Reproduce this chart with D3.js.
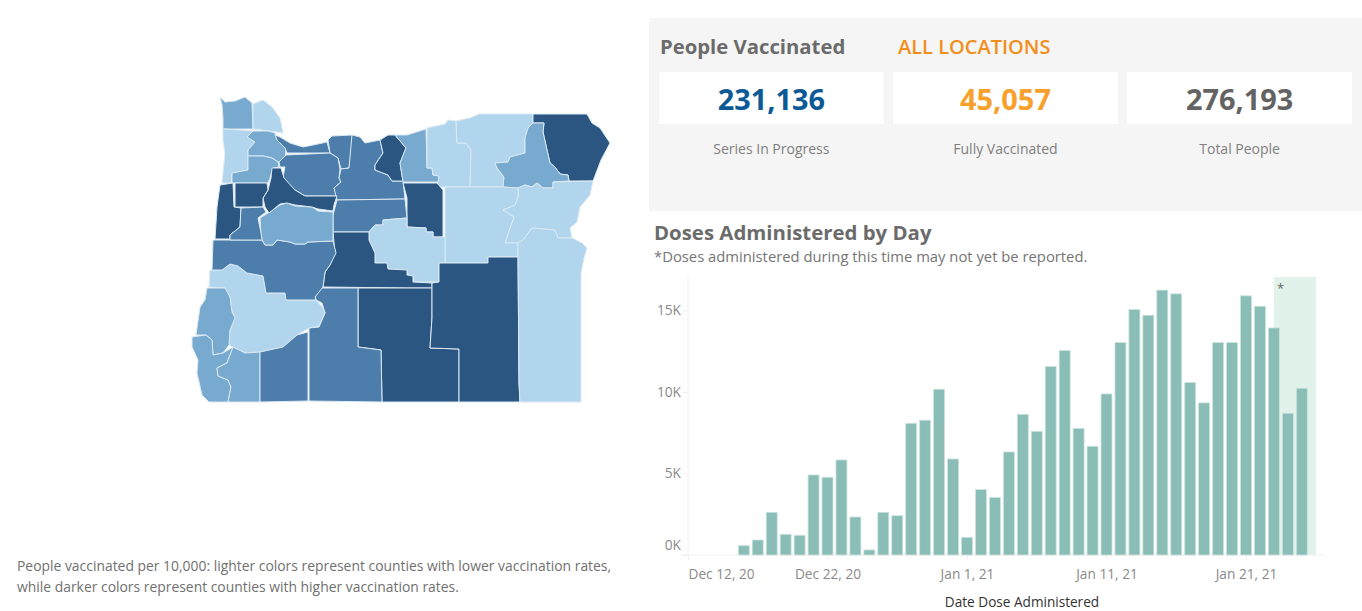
<!DOCTYPE html>
<html>
<head>
<meta charset="utf-8">
<script src="https://cdn.jsdelivr.net/npm/d3@7"></script>
<style>
  html, body { margin: 0; padding: 0; background: #fff; overflow: hidden; }
  text { font-family: "Open Sans", sans-serif; }
</style>
</head>
<body>
<svg id="chart" width="1362" height="611"></svg>
<script>
// doses per day
const dates = ["2020-12-16","2020-12-17","2020-12-18","2020-12-19","2020-12-20","2020-12-21","2020-12-22","2020-12-23","2020-12-24","2020-12-25","2020-12-26","2020-12-27","2020-12-28","2020-12-29","2020-12-30","2020-12-31","2021-01-01","2021-01-02","2021-01-03","2021-01-04","2021-01-05","2021-01-06","2021-01-07","2021-01-08","2021-01-09","2021-01-10","2021-01-11","2021-01-12","2021-01-13","2021-01-14","2021-01-15","2021-01-16","2021-01-17","2021-01-18","2021-01-19","2021-01-20","2021-01-21","2021-01-22","2021-01-23","2021-01-24","2021-01-25"];
const doses = [570,920,2620,1270,1210,4910,4770,5830,2330,310,2620,2410,8080,8270,10170,5890,1080,4010,3520,6320,8630,7590,11560,12540,7770,6670,9880,13030,15060,14710,16250,16020,10580,9330,13030,13030,15900,15260,13930,8700,10230];
const yTicks = [0, 5000, 10000, 15000];
const xTicks = ["2020-12-12","2020-12-22","2021-01-01","2021-01-11","2021-01-21"];
const lagPeriod = ["2021-01-23","2021-01-26"];

const kpiValues = [231136, 45057, 276193];
const kpiLabels = ["Series In Progress", "Fully Vaccinated", "Total People"];
const kpiColors = ["#0b5a96", "#f7a12c", "#636363"];

// county outlines, [name, rate class, ring]
const rateColors = ["#b0d5ec", "#78a9cf", "#4d7dab", "#2b5682"];
const counties = [
  ["Clatsop",1,[[220,97],[225,102],[235,101],[245,97],[252,103],[253,129],[223,129],[223,118],[222,105]]],
  ["Columbia",0,[[253,104],[263,100],[272,107],[280,118],[283,133],[270,131],[253,129]]],
  ["Tillamook",0,[[223,129],[253,131],[247,137],[255,142],[248,150],[248,170],[232,173],[231,183],[222,183],[225,153],[223,140]]],
  ["Washington",1,[[253,131],[268,131],[275,133],[277,140],[286,148],[285,163],[278,162],[272,158],[263,156],[248,156],[248,150],[255,142],[247,137]]],
  ["Yamhill",1,[[248,156],[263,156],[272,158],[278,162],[279,167],[273,168],[270,178],[268,183],[232,183],[232,173],[248,170]]],
  ["Multnomah",2,[[275,135],[280,137],[290,143],[303,147],[313,145],[327,142],[330,153],[287,153],[285,148],[277,140]]],
  ["Hood River",2,[[328,140],[332,136],[352,135],[352,150],[349,168],[341,169],[338,158],[330,153]]],
  ["Clackamas",2,[[286,155],[330,153],[338,158],[340,169],[339,178],[341,182],[334,188],[337,196],[305,196],[295,190],[287,182],[283,177],[285,167],[280,167],[279,162]]],
  ["Wasco",2,[[352,135],[360,137],[365,143],[380,140],[383,153],[375,165],[375,170],[388,175],[392,181],[403,181],[405,199],[337,200],[334,188],[341,182],[339,178],[341,169],[349,168]]],
  ["Sherman",3,[[380,140],[383,153],[375,165],[375,170],[388,175],[392,181],[403,181],[400,163],[406,148],[395,135],[388,135]]],
  ["Gilliam",1,[[395,135],[407,135],[426,129],[427,168],[432,168],[433,175],[439,176],[439,182],[403,182],[400,163],[406,148]]],
  ["Morrow",0,[[427,128],[445,124],[448,120],[456,121],[457,143],[466,143],[471,150],[470,187],[445,187],[437,187],[439,176],[433,175],[432,168],[427,168]]],
  ["Umatilla",0,[[456,121],[470,118],[479,114],[533,114],[533,123],[528,128],[525,138],[525,153],[510,157],[508,162],[495,163],[497,168],[504,177],[503,187],[470,187],[471,150],[466,143],[457,143]]],
  ["Wallowa",3,[[533,114],[587,114],[592,123],[600,128],[610,143],[601,160],[593,181],[569,181],[568,175],[560,174],[555,167],[550,163],[547,150],[543,132],[544,123],[533,123]]],
  ["Union",1,[[533,123],[544,123],[543,132],[547,150],[550,163],[555,167],[560,174],[568,175],[569,181],[553,182],[553,188],[543,188],[537,183],[532,187],[525,185],[518,188],[510,188],[503,187],[504,177],[497,168],[495,163],[508,162],[510,157],[525,153],[525,138],[528,128]]],
  ["Baker",0,[[518,188],[525,185],[532,187],[537,183],[543,188],[553,188],[553,182],[593,181],[590,195],[580,207],[577,222],[570,228],[572,238],[558,238],[555,230],[532,228],[523,240],[518,243],[505,243],[510,228],[514,217],[503,210],[515,205],[518,197]]],
  ["Grant",0,[[445,187],[503,187],[518,188],[518,197],[515,205],[503,210],[514,217],[510,228],[505,243],[518,243],[518,257],[488,257],[488,263],[445,263]]],
  ["Wheeler",3,[[403,183],[437,183],[443,190],[443,237],[433,237],[433,232],[426,232],[426,228],[407,227],[407,198]]],
  ["Jefferson",2,[[337,200],[405,199],[407,218],[383,220],[383,225],[375,225],[369,232],[333,232],[333,215]]],
  ["Crook",0,[[369,232],[375,225],[383,225],[383,220],[407,218],[407,227],[426,228],[426,232],[433,232],[433,237],[445,237],[445,263],[439,263],[439,282],[414,282],[413,276],[408,275],[407,270],[400,270],[388,269],[387,263],[375,263],[375,253],[369,240]]],
  ["Deschutes",3,[[333,232],[369,232],[369,240],[375,253],[375,263],[387,263],[388,269],[407,270],[407,275],[413,276],[413,282],[432,283],[432,288],[408,288],[323,287],[325,272],[330,265],[335,253]]],
  ["Lake",3,[[358,288],[432,288],[432,318],[430,348],[459,349],[459,402],[382,402],[381,350],[358,347]]],
  ["Harney",3,[[439,263],[488,263],[488,257],[518,257],[519,383],[520,402],[459,402],[459,349],[430,348],[432,318],[432,283],[439,282]]],
  ["Malheur",0,[[518,243],[523,240],[532,228],[555,230],[558,238],[572,238],[582,243],[587,248],[584,258],[581,273],[581,402],[520,402],[519,383],[518,257]]],
  ["Klamath",2,[[320,288],[358,288],[358,347],[381,350],[382,402],[309,401],[309,328],[319,327],[325,313],[322,303],[316,300],[315,295]]],
  ["Douglas",0,[[209,287],[210,270],[222,270],[230,264],[238,266],[247,273],[263,276],[266,293],[285,293],[286,300],[316,300],[323,308],[325,313],[319,326],[309,328],[297,335],[283,347],[260,352],[245,353],[233,347],[229,345],[230,330],[235,318],[232,312],[230,297],[225,288]]],
  ["Lane",2,[[213,240],[262,240],[265,245],[273,245],[277,240],[290,242],[295,244],[305,244],[308,242],[333,241],[336,253],[330,265],[325,272],[323,287],[315,297],[316,300],[286,300],[285,293],[266,293],[263,276],[247,273],[238,266],[230,264],[222,270],[212,270]]],
  ["Linn",1,[[260,218],[268,213],[280,205],[287,203],[295,206],[312,207],[318,211],[333,212],[333,232],[333,241],[308,242],[305,244],[295,244],[290,242],[277,240],[273,245],[265,245],[262,240],[261,233]]],
  ["Marion",3,[[272,168],[279,168],[281,168],[284,178],[295,190],[305,196],[337,196],[334,205],[333,211],[318,209],[312,207],[295,205],[287,203],[280,204],[269,213],[265,207],[263,198],[268,190],[271,178]]],
  ["Polk",3,[[235,183],[267,183],[268,190],[263,198],[263,207],[235,207]]],
  ["Lincoln",3,[[220,185],[233,183],[234,207],[241,208],[240,227],[230,235],[230,239],[215,239],[217,207]]],
  ["Benton",2,[[241,208],[263,207],[266,212],[258,218],[261,233],[262,240],[230,240],[230,235],[240,227]]],
  ["Coos",1,[[207,288],[225,288],[230,297],[232,312],[235,318],[230,330],[229,345],[223,353],[213,355],[212,340],[206,335],[196,335],[200,307],[205,300]]],
  ["Curry",1,[[192,337],[206,335],[212,340],[213,355],[223,353],[233,347],[227,363],[217,368],[218,376],[228,380],[231,387],[228,402],[209,402],[202,395],[197,373],[198,360],[192,347]]],
  ["Josephine",1,[[233,347],[245,353],[260,352],[260,402],[228,402],[231,387],[228,380],[218,376],[217,368],[227,363]]],
  ["Jackson",2,[[260,352],[283,347],[297,335],[308,332],[308,401],[260,402]]]
];

const svg = d3.select("#chart");
const parseDay = d3.timeParse("%Y-%m-%d");

// map
const geo = {
  type: "FeatureCollection",
  features: counties.map(c => ({
    type: "Feature",
    properties: {name: c[0], rate: c[1]},
    geometry: {type: "Polygon", coordinates: [c[2].concat([c[2][0]])]}
  }))
};
const projection = d3.geoIdentity().fitExtent([[192, 97], [610, 402]], geo);
const path = d3.geoPath().projection(projection);

svg.append("g").selectAll("path")
  .data(geo.features)
  .enter()
  .append("path")
  .attr("d", path)
  .attr("fill", d => rateColors[d.properties.rate])
  .attr("stroke", "#dbe9f3")
  .attr("stroke-width", 1)
  .attr("stroke-linejoin", "round");

// footnote under the map
svg.append("text").attr("x", 17).attr("y", 571).attr("fill", "#707070").attr("font-size", 13.9)
  .text("People vaccinated per 10,000: lighter colors represent counties with lower vaccination rates,");
svg.append("text").attr("x", 17).attr("y", 592).attr("fill", "#707070").attr("font-size", 13.9)
  .text("while darker colors represent counties with higher vaccination rates.");

// KPI panel
svg.append("rect").attr("x", 649).attr("y", 18).attr("width", 713).attr("height", 193).attr("fill", "#f5f5f5");
svg.append("text").attr("x", 660).attr("y", 54).attr("fill", "#6b6b6b").attr("font-size", 20.3).attr("font-weight", 700)
  .text("People Vaccinated");
svg.append("text").attr("x", 898).attr("y", 54).attr("fill", "#f28e1c").attr("font-size", 20).attr("font-weight", 600)
  .text("ALL LOCATIONS");

const cardX = d3.scaleBand().domain(kpiLabels).range([659, 1352]).paddingInner(0.04);
const card = svg.append("g").selectAll("g")
  .data(kpiLabels)
  .enter()
  .append("g")
  .attr("transform", d => "translate(" + cardX(d) + ",72)");
card.append("rect")
  .attr("width", cardX.bandwidth())
  .attr("height", 52)
  .attr("fill", "#fff");
card.append("text")
  .attr("x", cardX.bandwidth() / 2)
  .attr("y", 38)
  .attr("text-anchor", "middle")
  .attr("font-size", 28.9)
  .attr("font-weight", 700)
  .attr("fill", (d, i) => kpiColors[i])
  .text((d, i) => d3.format(",")(kpiValues[i]));
card.append("text")
  .attr("x", cardX.bandwidth() / 2)
  .attr("y", 82)
  .attr("text-anchor", "middle")
  .attr("font-size", 14)
  .attr("fill", "#808080")
  .text(d => d);

// bar chart
svg.append("text").attr("x", 654).attr("y", 240).attr("fill", "#6b6b6b").attr("font-size", 20.4).attr("font-weight", 700)
  .text("Doses Administered by Day");
svg.append("text").attr("x", 654).attr("y", 262).attr("fill", "#757575").attr("font-size", 14.8)
  .text("*Doses administered during this time may not yet be reported.");

const x = d3.scaleTime()
  .domain([parseDay("2020-12-12"), parseDay("2021-01-26")])
  .range([688, 1315.75]);
const y = d3.scaleLinear().domain([0, 17055]).range([555, 277]);
const dayWidth = x(parseDay("2020-12-13")) - x(parseDay("2020-12-12"));

svg.append("rect")
  .attr("x", x(parseDay(lagPeriod[0])))
  .attr("y", y.range()[1])
  .attr("width", x(parseDay(lagPeriod[1])) - x(parseDay(lagPeriod[0])))
  .attr("height", y.range()[0] - y.range()[1])
  .attr("fill", "#e1f2ea");
svg.append("text")
  .attr("x", x(parseDay(lagPeriod[0])) + 3)
  .attr("y", 293)
  .attr("fill", "#666")
  .attr("font-size", 13)
  .text("*");

const yAxis = d3.axisLeft(y)
  .tickValues(yTicks)
  .tickFormat(d => d / 1000 + "K")
  .tickSize(6);
const gy = svg.append("g").attr("transform", "translate(688,0)").call(yAxis);
gy.select(".domain").attr("stroke", "#f0f0f0").attr("d", "M0,277V555");
gy.selectAll(".tick line").attr("stroke", "#f0f0f0");
gy.selectAll(".tick text")
  .attr("x", -7)
  .attr("dy", d => d === 0 ? "-0.42em" : "0.32em")
  .attr("fill", "#8a8a8a")
  .attr("font-size", 13.7)
  .attr("font-family", '"Open Sans", sans-serif');

const gDays = svg.append("g").attr("transform", "translate(0,555)")
  .call(d3.axisBottom(x).ticks(d3.timeDay.every(1)).tickSize(2).tickFormat(""));
gDays.select(".domain").attr("stroke", "#f0f0f0").attr("d", "M682,0H1325");
gDays.selectAll(".tick line").attr("stroke", "#f6f6f6");

const xAxis = d3.axisBottom(x)
  .tickValues(xTicks.map(parseDay))
  .tickFormat(d3.timeFormat("%b %-d, %y"))
  .tickSize(5);
const gx = svg.append("g").attr("transform", "translate(0,555)").call(xAxis);
gx.select(".domain").remove();
gx.selectAll(".tick line").attr("stroke", "#f0f0f0");
gx.selectAll(".tick text")
  .attr("y", 14)
  .attr("fill", "#8a8a8a")
  .attr("font-size", 13.7)
  .attr("font-family", '"Open Sans", sans-serif')
  .attr("text-anchor", (d, i) => i === 0 ? "start" : "middle");

svg.append("g").selectAll("rect")
  .data(dates)
  .enter()
  .append("rect")
  .attr("x", d => x(parseDay(d)) - (dayWidth - 3) / 2)
  .attr("y", (d, i) => y(doses[i]))
  .attr("width", dayWidth - 3)
  .attr("height", (d, i) => y(0) - y(doses[i]))
  .attr("fill", "#89bdb6")
  .attr("stroke", "#cbe3de")
  .attr("stroke-width", 0.8);

svg.append("text")
  .attr("x", 1022)
  .attr("y", 607)
  .attr("text-anchor", "middle")
  .attr("fill", "#333")
  .attr("font-size", 13.6)
  .text("Date Dose Administered");
</script>
</body>
</html>
